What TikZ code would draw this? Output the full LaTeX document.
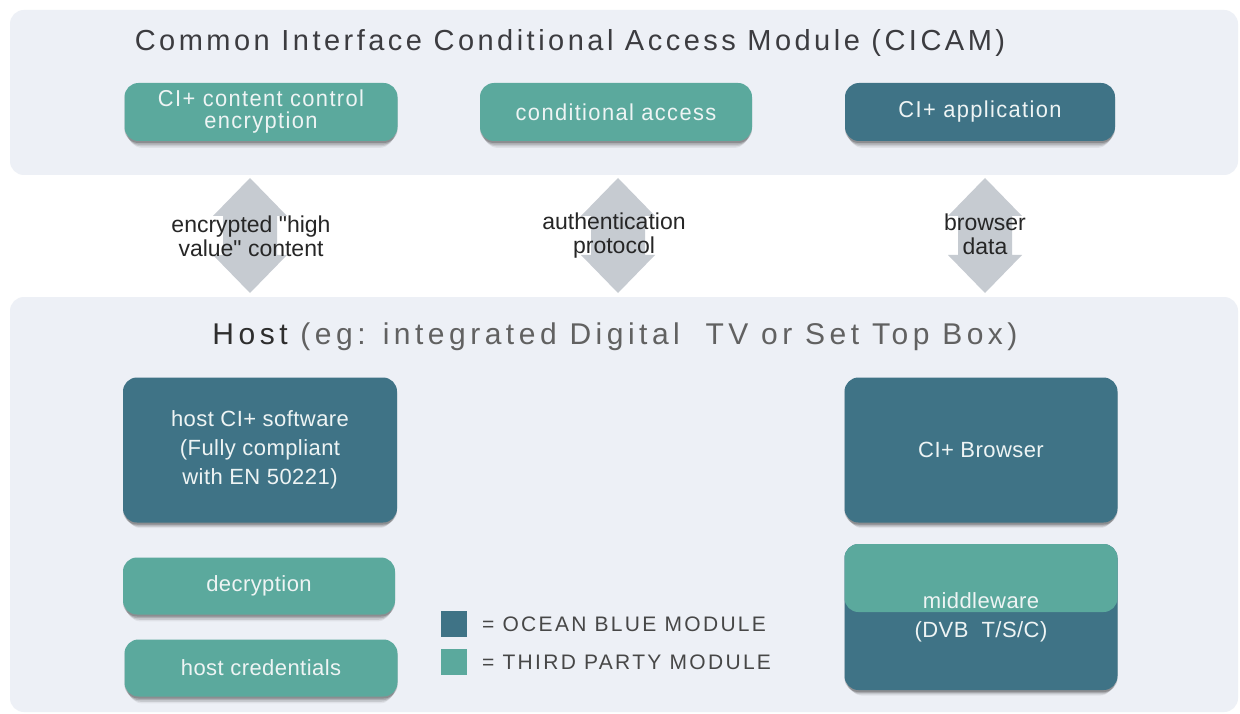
\documentclass[tikz,border=0pt]{standalone}
\usepackage{fontspec}
\setmainfont{Liberation Sans}
\newfontfamily\cicamfont[LetterSpace=12]{Liberation Sans}
\newfontfamily\hostfont[LetterSpace=15]{Liberation Sans}
\newfontfamily\legendfont[LetterSpace=11]{Liberation Sans}
\newfontfamily\topboxfont[LetterSpace=6,FakeStretch=0.95]{Liberation Sans}
\newfontfamily\boxfont[LetterSpace=2]{Liberation Sans}
\newfontfamily\labelfont[Ligatures=TeXOff]{Liberation Sans}
\usetikzlibrary{shadows}
\definecolor{thirdparty}{HTML}{5BA99D}
\definecolor{ocean}{HTML}{3F7386}
\definecolor{panelbg}{HTML}{EDF0F6}
\definecolor{agray}{HTML}{C6CBD1}
\definecolor{titlegray}{HTML}{3C3C40}
\definecolor{boxtext}{HTML}{EEF4F4}
\newcommand\blockarrow[1]{%
  \fill[agray] ({#1-27},216) -- ({#1-37},216) -- (#1,178) -- ({#1+37},216) -- ({#1+27},216)
    -- ({#1+27},255) -- ({#1+37},255) -- (#1,293) -- ({#1-37},255) -- ({#1-27},255) -- cycle;}
\begin{document}
\begin{tikzpicture}[x=1pt,y=-1pt,
  panelbox/.style={fill=panelbg, rounded corners=14pt},
  softshadow/.style={
    drop shadow={shadow xshift=0pt,shadow yshift=-2pt,opacity=.18,fill=black},
    drop shadow={shadow xshift=0pt,shadow yshift=-4pt,shadow scale=0.99,opacity=.14,fill=black},
    drop shadow={shadow xshift=0pt,shadow yshift=-6pt,shadow scale=0.98,opacity=.10,fill=black},
    drop shadow={shadow xshift=0pt,shadow yshift=-8pt,shadow scale=0.97,opacity=.06,fill=black}},
  modbox/.style={rounded corners=14pt, text=boxtext, align=center, inner sep=0pt,
    font=\boxfont\fontsize{22}{29}\selectfont, softshadow},
  obox/.style={modbox, fill=ocean},
  tbox/.style={modbox, fill=thirdparty},
  topbox/.style={font=\topboxfont\fontsize{23}{22}\selectfont},
  arrowlabel/.style={align=center, text=black!85, font=\labelfont\fontsize{23}{24}\selectfont, inner sep=0pt},
  legendsq/.style={minimum size=26pt, inner sep=0pt},
  legendtext/.style={anchor=west, text=black!72, font=\legendfont\fontsize{21}{24}\selectfont, inner sep=0pt}
]
\useasboundingbox[fill=white] (0,0) rectangle (1240,714);
% panels
\fill[panelbox] (10,10) rectangle (1238,175);
\fill[panelbox] (10,297) rectangle (1238,712);
% titles
\node[text=titlegray, font=\cicamfont\fontsize{29}{32}\selectfont, inner sep=0pt] (cicamtitle) at (570,43) {Common Interface Conditional Access Module (CICAM)};
\node[font=\hostfont\fontsize{30}{32}\selectfont, inner sep=0pt] (hosttitle) at (615,337) {\textcolor{black!82}{Host} {\color{black!62}(eg: integrated Digital\ \ TV or Set Top Box)}};
% CICAM modules
\node[tbox, topbox, minimum width=273pt, minimum height=58pt] (cce) at (261,112) {CI+ content control\\encryption};
\node[tbox, topbox, minimum width=272pt, minimum height=58pt] (ca) at (616,112) {conditional access};
\node[obox, topbox, minimum width=270pt, minimum height=58pt] (app) at (980,112) {CI+ application};
% arrows
\blockarrow{250}
\blockarrow{618}
\blockarrow{985}
\node[arrowlabel] (l1) at (251,236) {encrypted "high\\value" content};
\node[arrowlabel] (l2) at (614,236) {authentication\\protocol};
\node[arrowlabel] (l3) at (985,234) {browser\\data};
% host modules
\node[obox, minimum width=274pt, minimum height=145pt] (hsw) at (260,450) {host CI+ software\\(Fully compliant\\with EN 50221)};
\node[tbox, minimum width=272pt, minimum height=57pt] (dec) at (259,586) {decryption};
\node[tbox, minimum width=273pt, minimum height=57pt] (cred) at (261,668) {host credentials};
\node[obox, minimum width=273pt, minimum height=145pt] (brw) at (981,450) {CI+ Browser};
\node[obox, minimum width=273pt, minimum height=146pt,
  path picture={\fill[thirdparty] ([yshift=10pt]path picture bounding box.north west) rectangle ([yshift=5pt]path picture bounding box.east);}] (mid) at (981,617) {middleware\\(DVB\ \ T/S/C)};
% legend
\node[legendsq, fill=ocean] (lgo) at (454,624) {};
\node[legendsq, fill=thirdparty] (lgt) at (454,662) {};
\node[legendtext] (lgotext) at (482,624) {= OCEAN BLUE MODULE};
\node[legendtext] (lgttext) at (482,662) {= THIRD PARTY MODULE};
\end{tikzpicture}
\end{document}
